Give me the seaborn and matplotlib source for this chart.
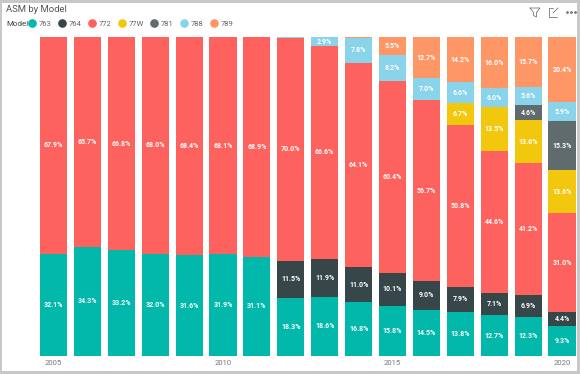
import matplotlib
matplotlib.use("Agg")
import matplotlib.pyplot as plt
import numpy as np
import seaborn as sns
from matplotlib.lines import Line2D
from matplotlib.patches import Rectangle

sns.set_style("white")
plt.rcParams['font.family'] = ['Roboto', 'DejaVu Sans']

# data
years = list(range(2005, 2021))
tick_years = [2005, 2010, 2015, 2020]
models = ["763", "764", "772", "77W", "781", "788", "789"]
m763 = [32.1, 34.3, 33.2, 32.0, 31.6, 31.9, 31.1, 18.3, 18.6, 16.8, 15.8, 14.5, 13.8, 12.7, 12.3, 9.3]
m764 = [0, 0, 0, 0, 0, 0, 0, 11.5, 11.9, 11.0, 10.1, 9.0, 7.9, 7.1, 6.9, 4.4]
m772 = [67.9, 65.7, 66.8, 68.0, 68.4, 68.1, 68.9, 70.0, 66.6, 64.1, 60.4, 56.7, 50.8, 44.6, 41.2, 31.0]
m77w = [0, 0, 0, 0, 0, 0, 0, 0, 0, 0, 0, 0, 6.7, 13.5, 13.6, 13.6]
m781 = [0, 0, 0, 0, 0, 0, 0, 0, 0, 0, 0, 0, 0, 0, 4.6, 15.3]
m788 = [0, 0, 0, 0, 0, 0, 0, 0.2, 2.9, 7.8, 8.2, 7.0, 6.6, 6.0, 5.6, 5.9]
m789 = [0, 0, 0, 0, 0, 0, 0, 0, 0, 0.3, 5.5, 12.7, 14.2, 16.0, 15.7, 20.4]
series = [m763, m764, m772, m77w, m781, m788, m789]
colors = ["#01B8AA", "#374649", "#FD625E", "#F2C80F", "#5F6B6D", "#8AD4EB", "#FE9666"]

W, H = 580, 374
fig = plt.figure(figsize=(W / 100, H / 100), dpi=100, facecolor="white")
ax = fig.add_axes([36.5 / W, 1 - 356 / H, 542.5 / W, 319 / H])

bottom = np.zeros(len(years))
for vals, col in zip(series, colors):
    vals = np.array(vals, dtype=float)
    n_before = len(ax.containers)
    sns.barplot(x=years, y=vals, bottom=bottom, color=col, saturation=1, width=0.8, ax=ax, linewidth=0)
    cont = ax.containers[n_before]
    labels = [f"{v:.1f}%" if v >= 2 else "" for v in vals]
    ax.bar_label(cont, labels=labels, label_type="center", color="white", fontsize=5, fontweight="bold")
    bottom += vals

ax.set_xlim(-0.5, 15.5)
ax.set_ylim(0, 100)
ax.set_yticks([])
ax.set_xticks([years.index(y) for y in tick_years])
ax.set_xticklabels(tick_years, fontsize=5.5, color="#777777")
ax.tick_params(axis="x", length=0, pad=3)
sns.despine(ax=ax, left=True, bottom=True, top=True, right=True)
ax.set_facecolor("none")

# title and legend
fig.text(6 / W, 1 - 9.5 / H, "ASM by Model", fontsize=6.8, color="#555555", va="center")
fig.text(6 / W, 1 - 24 / H, "Model", fontsize=5.8, color="#444444", va="center")
handles = [Line2D([], [], marker="o", ls="", color=c, markersize=5.2, label=m) for m, c in zip(models, colors)]
fig.legend(handles=handles, loc="center left", bbox_to_anchor=(24 / W, 1 - 24 / H), ncol=7, frameon=False,
           fontsize=5.5, labelcolor="#666666", handletextpad=-0.1, columnspacing=0.35, borderpad=0, borderaxespad=0)

# header icons
gray = "#777777"
fig.add_artist(Line2D(np.array([530, 540, 536.5, 536.5, 533.5, 533.5, 530]) / W,
                      1 - np.array([8, 8, 12.5, 17, 15.5, 12.5, 8]) / H, color=gray, lw=0.6))
fig.add_artist(Line2D(np.array([549, 549, 557]) / W, 1 - np.array([12, 17, 17]) / H, color=gray, lw=0.6))
fig.add_artist(Line2D(np.array([549, 549, 553]) / W, 1 - np.array([12, 8, 8]) / H, color=gray, lw=0.6))
fig.add_artist(Line2D(np.array([553, 558]) / W, 1 - np.array([13, 8]) / H, color=gray, lw=0.6))
for x in [567, 571, 575]:
    fig.add_artist(Line2D([x / W], [1 - 11.5 / H], marker="o", ms=1, color=gray, ls=""))

# grey card border
border = "#c8c8c8"
for x, y, w, h in [(0, 0, W, 3), (0, H - 3, W, 3), (0, 0, 2, H), (W - 3, 0, 3, H)]:
    fig.add_artist(Rectangle((x / W, 1 - (y + h) / H), w / W, h / H, transform=fig.transFigure,
                             facecolor=border, edgecolor="none", zorder=10))

fig.savefig("out.png", dpi=100)
